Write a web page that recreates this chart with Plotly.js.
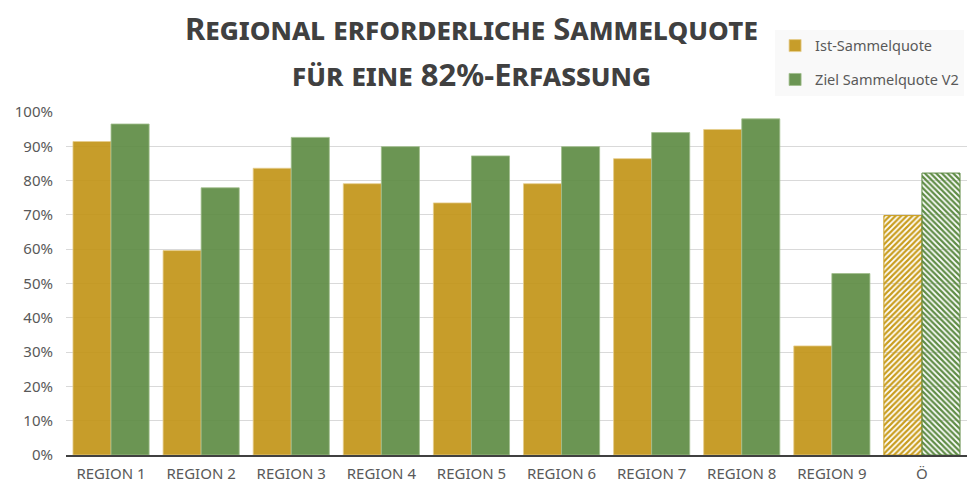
<!DOCTYPE html>
<html>
<head>
<meta charset="utf-8">
<script src="https://cdn.plot.ly/plotly-3.0.1.min.js"></script>
<style>html,body{margin:0;padding:0;background:#fff;}#chart{width:971px;height:487px;}</style>
</head>
<body>
<div id="chart"></div>
<script>
const categories = ["REGION 1","REGION 2","REGION 3","REGION 4","REGION 5","REGION 6","REGION 7","REGION 8","REGION 9","Ö"];
const istSammelquote = [0.914, 0.596, 0.836, 0.791, 0.735, 0.791, 0.864, 0.949, 0.318, 0.698];
const zielSammelquoteV2 = [0.965, 0.779, 0.926, 0.899, 0.872, 0.899, 0.940, 0.980, 0.529, 0.822];
const seriesNames = ["Ist-Sammelquote", "Ziel Sammelquote V2"];
const titleLines = ["Regional erforderliche Sammelquote", "für eine 82%-Erfassung"];

const goldFill = "rgba(194,149,24,0.92)";
const greenFill = "rgba(94,140,68,0.92)";
const goldSolid = "#C99D1E";
const greenSolid = "#5F8C45";

const lastIdx = categories.length - 1;
const isTotal = categories.map((c, i) => i === lastIdx);

function barTrace(name, values, fill, solid, edge, hatch, group) {
  return {
    type: "bar", name: name, x: categories, y: values,
    legendgroup: group,
    marker: {
      color: isTotal.map(t => t ? solid : fill),
      line: {width: 1, color: isTotal.map(t => t ? solid : edge)},
      pattern: {
        shape: isTotal.map(t => t ? hatch : ""),
        size: 4, solidity: 0.55, fillmode: "replace"
      }
    },
    hoverinfo: "x+y"
  };
}

const traces = [
  barTrace(seriesNames[0], istSammelquote, goldFill, goldSolid, "rgba(230,205,140,0.8)", "/", "g1"),
  barTrace(seriesNames[1], zielSammelquoteV2, greenFill, greenSolid, "rgba(160,190,140,0.8)", "\\", "g2")
];

const titleFont = {family: "Noto Sans, sans-serif", size: 31, color: "#404040", weight: "bold", variant: "small-caps"};

const layout = {
  width: 971, height: 487,
  margin: {l: 66, r: 4, t: 112, b: 32},
  paper_bgcolor: "white", plot_bgcolor: "white",
  barmode: "group", bargap: 0.155, bargroupgap: 0,
  font: {family: "Noto Sans, Open Sans, sans-serif", color: "#595959", size: 15},
  annotations: [
    {text: titleLines[0], xref: "paper", yref: "paper", x: (471 - 66) / 901, y: (455 - 28) / 343,
     xanchor: "center", yanchor: "middle", showarrow: false, font: titleFont},
    {text: titleLines[1], xref: "paper", yref: "paper", x: (471 - 66) / 901, y: (455 - 74) / 343,
     xanchor: "center", yanchor: "middle", showarrow: false, font: titleFont}
  ],
  xaxis: {
    type: "category", automargin: false, tickangle: 0,
    showline: true, linecolor: "#404040", linewidth: 2,
    ticks: "", tickfont: {size: 15, color: "#595959"},
    ticklabelstandoff: 4,
    showgrid: false
  },
  yaxis: {
    range: [0, 1.0], dtick: 0.1, tickformat: ".0%", automargin: false,
    showgrid: true, gridcolor: "#D9D9D9", gridwidth: 1,
    zeroline: false, showline: false, ticks: "",
    ticklabelstandoff: 12,
    tickfont: {size: 15, color: "#595959"}
  },
  showlegend: true,
  legend: {
    orientation: "v", traceorder: "grouped",
    xref: "paper", yref: "paper",
    x: 0.787, y: 1.24, xanchor: "left", yanchor: "top",
    bgcolor: "rgba(245,245,245,0.6)",
    font: {size: 14.5, color: "#595959"},
    itemwidth: 30, tracegroupgap: 12
  }
};

Plotly.newPlot("chart", traces, layout, {displayModeBar: false, staticPlot: true});
</script>
</body>
</html>
